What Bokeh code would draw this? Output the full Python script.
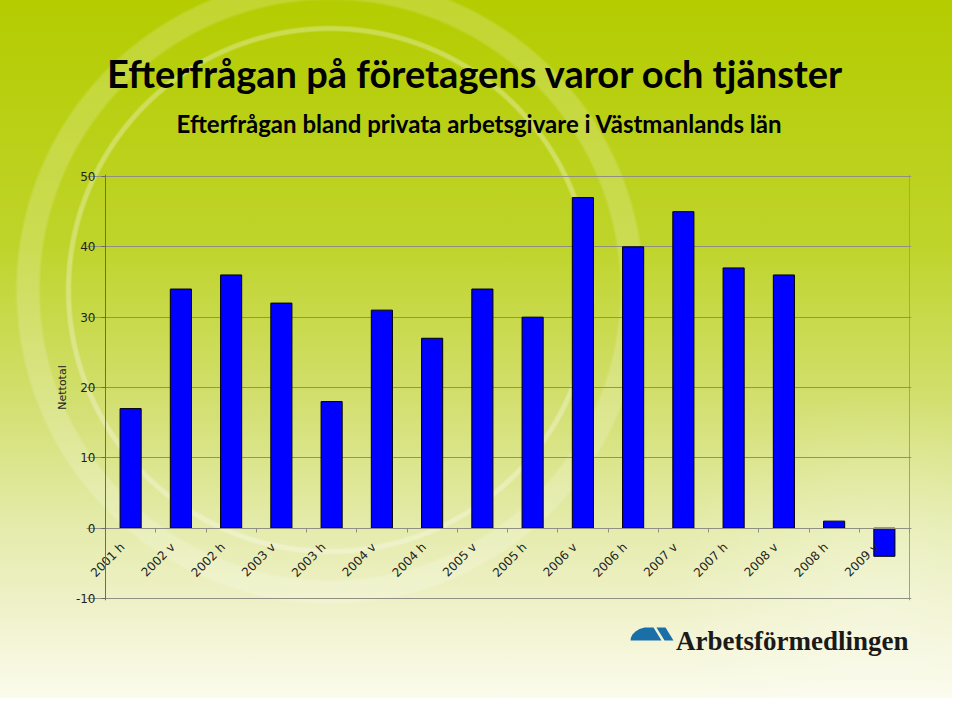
import math
from bokeh.plotting import figure
from bokeh.layouts import column
from bokeh.models import Range1d, FixedTicker, LinearAxis
from bokeh.core.properties import value
from bokeh.embed import file_html
from bokeh.resources import INLINE

# ---------------- data ----------------
categories = ["2001 h", "2002 v", "2002 h", "2003 v", "2003 h", "2004 v", "2004 h", "2005 v",
              "2005 h", "2006 v", "2006 h", "2007 v", "2007 h", "2008 v", "2008 h", "2009 v"]
nettotal = [17, 34, 36, 32, 18, 31, 27, 34, 30, 47, 40, 45, 37, 36, 1, -4]
y_ticks = [-10, 0, 10, 20, 30, 40, 50]
y_min, y_max = -10, 50

title_text = "Efterfrågan på företagens varor och tjänster"
subtitle_text = "Efterfrågan bland privata arbetsgivare i Västmanlands län"
logo_text = "Arbetsförmedlingen"
y_label = "Nettotal"

# ---------------- layout constants (page px) ----------------
W = 952
HEAD_H = 164          # header panel: page y 0..164
CHART_H = 446         # chart panel: page y 164..610
FOOT_H = 88           # footer panel: page y 610..698
PL, PR, PT, PB = 105, 909, 176, 598   # plot-area box (y axis at PL)
FRAME_L = 86                          # frame starts left of the axis so labels are not clipped
PAD = 2                               # px of frame beyond the box on top/bottom/right

n = len(categories)
ppx = (PR - PL) / n
ppu = (PB - PT) / (y_max - y_min)
centers = [i + 0.5 for i in range(n)]
bounds = [float(i) for i in range(n + 1)]
label_pos = [round(c - 0.16, 4) for c in centers]   # rotated labels hang left of the bar

HEAD_FONT = "Lato"
AXF = "DejaVu Sans"
TXT = "#1e1e1e"
GRID = "#8f8f82"

bg = ("radial-gradient(circle at 330px 290px, rgba(255,255,255,0) 258px, rgba(255,255,255,0.30) 260px, "
      "rgba(255,255,255,0.30) 263px, rgba(255,255,255,0) 265px), "
      "radial-gradient(circle at 330px 290px, rgba(255,255,255,0) 289px, rgba(255,255,255,0.19) 292px, "
      "rgba(255,255,255,0.19) 312px, rgba(255,255,255,0) 315px), "
      "radial-gradient(circle at 880px 600px, rgba(255,255,255,0.30) 0px, rgba(255,255,255,0) 210px), "
      "linear-gradient(to bottom, #b4cc00 0%, #bfd42a 35%, #d2df6e 57%, #e4ebaa 75%, #f0f2cc 88%, #fbfbec 100%)")


def blank(h, top):
    # page-pixel coordinates; frame aligned with the chart frame (column aligns frames)
    f = figure(width=W, height=h, output_backend="svg", toolbar_location=None,
               x_range=Range1d(FRAME_L, PR + PAD), y_range=Range1d(top + h, top),
               x_axis_type=None, y_axis_type=None,
               min_border_left=FRAME_L, min_border_right=W - PR - PAD,
               min_border_top=0, min_border_bottom=0,
               border_fill_color=None, background_fill_color=None,
               outline_line_color=None)
    f.xgrid.visible = False
    f.ygrid.visible = False
    return f


# ---------------- header ----------------
head = blank(HEAD_H, 0)
head.text(x=[475], y=[72], text=[title_text], text_align="center", text_baseline="alphabetic",
          text_font=value(HEAD_FONT), text_font_size=value("38px"), text_font_style="bold",
          text_color="#000000")
head.text(x=[479], y=[123], text=[subtitle_text], text_align="center", text_baseline="alphabetic",
          text_font=value(HEAD_FONT), text_font_size=value("24px"), text_font_style="bold",
          text_color="#000000")

# ---------------- chart ----------------
p = figure(width=W, height=CHART_H, output_backend="svg", toolbar_location=None,
           x_range=Range1d(-(PL - FRAME_L) / ppx, n + PAD / ppx),
           y_range=Range1d(y_min - PAD / ppu, y_max + PAD / ppu),
           min_border_left=FRAME_L, min_border_right=W - PR - PAD,
           min_border_top=PT - PAD - HEAD_H, min_border_bottom=HEAD_H + CHART_H - PB - PAD,
           border_fill_color=None, background_fill_color=None,
           outline_line_color=None)

p.vbar(x=centers, top=nettotal, bottom=0, width=0.42,
       fill_color="#0000ff", line_color="#000000", line_width=1)

# horizontal grid (incl. top/bottom border) limited to the plot box, right border line
p.ygrid.ticker = FixedTicker(ticks=y_ticks)
p.ygrid.bounds = (0, n)
p.ygrid.grid_line_color = GRID
p.xgrid.ticker = FixedTicker(ticks=[n])
p.xgrid.bounds = (y_min, y_max)
p.xgrid.grid_line_color = "#a09f94"

# axis line + category boundary ticks at zero
xa = p.xaxis[0]
xa.fixed_location = 0
xa.ticker = FixedTicker(ticks=[], minor_ticks=bounds)
xa.major_tick_line_color = None
xa.minor_tick_in = 0
xa.minor_tick_out = 4
xa.minor_tick_line_color = GRID
xa.axis_line_color = GRID

# category labels
la = LinearAxis(ticker=FixedTicker(ticks=label_pos, minor_ticks=[]), fixed_location=0,
                major_label_overrides={t: name for t, name in zip(label_pos, categories)},
                axis_line_color=None, major_tick_line_color=None, minor_tick_line_color=None,
                major_tick_in=0, major_tick_out=0,
                major_label_orientation=math.pi / 4, major_label_standoff=17,
                major_label_text_font=AXF, major_label_text_font_size="12px",
                major_label_text_color=TXT)
p.add_layout(la, "below")

# y tick labels + axis title (frame-edge axis, line hidden)
ya = p.yaxis[0]
ya.ticker = FixedTicker(ticks=y_ticks, minor_ticks=[])
ya.major_label_overrides = {t: str(t) for t in y_ticks}
ya.axis_line_color = None
ya.major_tick_line_color = None
ya.minor_tick_line_color = None
ya.major_tick_in = 0
ya.major_tick_out = 0
ya.major_label_standoff = -(PL - 10 - FRAME_L)
ya.major_label_text_font = AXF
ya.major_label_text_font_size = "12px"
ya.major_label_text_color = TXT
ya.axis_label = y_label
ya.axis_label_text_font = AXF
ya.axis_label_text_font_size = "11px"
ya.axis_label_text_font_style = "normal"
ya.axis_label_text_color = TXT
ya.axis_label_standoff = 4

# y axis line with ticks at x = 0
ya2 = LinearAxis(ticker=FixedTicker(ticks=y_ticks, minor_ticks=[]), fixed_location=0,
                 major_label_overrides={t: "" for t in y_ticks},
                 axis_line_color="#6b6b5e", major_tick_line_color="#6b6b5e",
                 minor_tick_line_color=None, major_tick_in=0, major_tick_out=4)
p.add_layout(ya2, "left")

# ---------------- footer (logo) ----------------
top0 = HEAD_H + CHART_H
foot = blank(FOOT_H, top0)
logo_left = [(630, 640), (630.5, 637), (632, 634), (635, 631), (639, 628.5), (644, 627),
             (653, 627), (661, 640)]
logo_right = [(656, 627), (665, 627), (673, 640), (664, 640)]
shapes = [logo_left, logo_right]
foot.patches(xs=[[x for x, _ in s] for s in shapes],
             ys=[[y for _, y in s] for s in shapes],
             fill_color="#1b6fa8", line_color=None)
foot.text(x=[908], y=[640.5], text=[logo_text], text_align="right", text_baseline="alphabetic",
          text_font=value("Liberation Serif"), text_font_size=value("27px"), text_font_style="bold",
          text_color="#1a1a1a")

layout = column(head, p, foot, spacing=0, styles={"background": bg})
open("out.html", "w").write(file_html(layout, INLINE))
